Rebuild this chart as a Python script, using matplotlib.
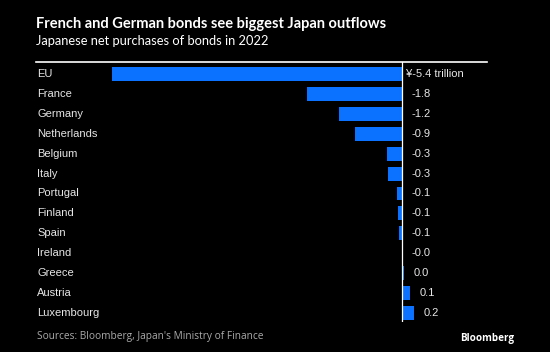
import matplotlib.pyplot as plt
from matplotlib.transforms import blended_transform_factory

# Japanese net purchases of euro-area bonds in 2022, trillion yen
countries = ["EU", "France", "Germany", "Netherlands", "Belgium", "Italy", "Portugal",
             "Finland", "Spain", "Ireland", "Greece", "Austria", "Luxembourg"]
net_purchases = [-5.4, -1.78, -1.18, -0.88, -0.29, -0.26, -0.09,
                 -0.08, -0.06, -0.01, 0.03, 0.14, 0.22]

BG = "black"
BLUE = "#0a72ff"
TEXT = "#e6e6e6"

W, H = 550, 352
fig = plt.figure(figsize=(W / 100, H / 100), dpi=100, facecolor=BG)

# axes box in pixel terms: x 36..487, y 62..322 (from top)
ax = fig.add_axes([36 / W, 1 - 322 / H, (487 - 36) / W, (322 - 62) / H])
ax.set_facecolor(BG)

y = list(range(len(countries)))
ax.barh(y, net_purchases, height=0.7, color=BLUE, zorder=2)
ax.axvline(0, color="white", lw=0.9, zorder=3)

ax.set_xlim(-6.81, 1.574)
ax.set_ylim(len(countries) - 0.55, -0.6)

for s in ["left", "right", "bottom"]:
    ax.spines[s].set_visible(False)
ax.spines["top"].set_color("white")
ax.spines["top"].set_linewidth(1.2)
ax.set_xticks([])
ax.set_yticks([])

lab_tr = blended_transform_factory(ax.transAxes, ax.transData)
for i, (name, v) in enumerate(zip(countries, net_purchases)):
    ax.text(0.003, i, name, transform=lab_tr, ha="left", va="center",
            color=TEXT, fontsize=8, family="Liberation Sans")
    if i == 0:
        txt, off = f"¥{v:.1f} trillion", 2.5
    else:
        txt, off = f"{v:.1f}", 6.8
    ax.annotate(txt, xy=(max(v, 0), i), xytext=(off, 0), textcoords="offset points",
                ha="left", va="center", color=TEXT, fontsize=8, family="Liberation Sans")

fig.text(36 / W, 1 - 24 / H, "French and German bonds see biggest Japan outflows",
         ha="left", va="center", color="white", fontsize=10.5, fontweight="bold",
         family="Lato")
fig.text(36 / W, 1 - 41 / H, "Japanese net purchases of bonds in 2022",
         ha="left", va="center", color="white", fontsize=9.3, family="Lato")
fig.text(37 / W, 1 - 337 / H, "Sources: Bloomberg, Japan's Ministry of Finance",
         ha="left", va="center", color="#aaaaaa", fontsize=7.3, family="Open Sans")
fig.text(514 / W, 1 - 339 / H, "Bloomberg", ha="right", va="center", color="white",
         fontsize=7.1, fontweight="bold", family="Open Sans")

fig.savefig("out.png", dpi=100, facecolor=BG)
